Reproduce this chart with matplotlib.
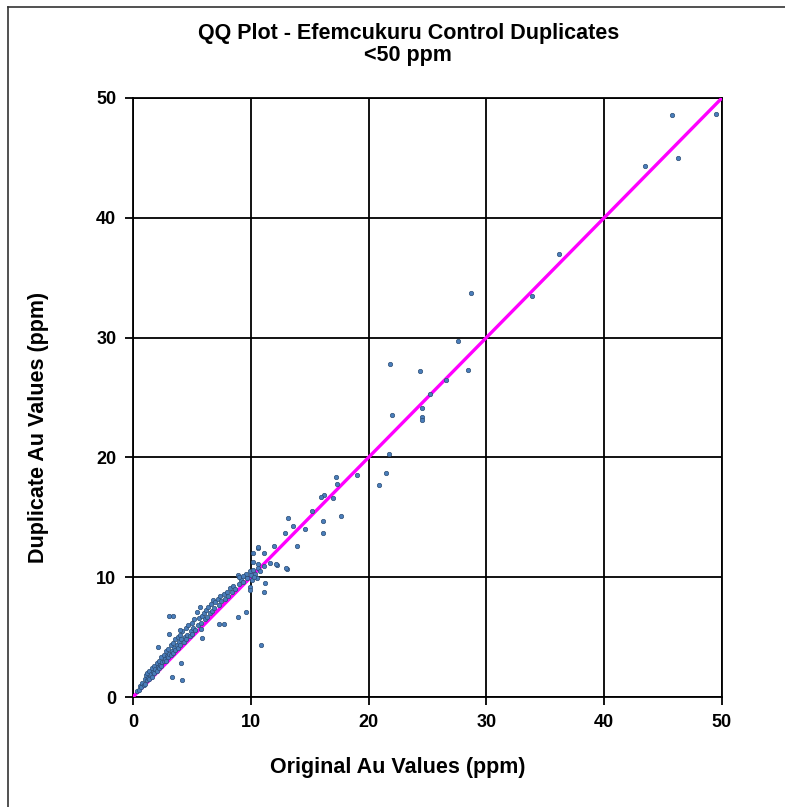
import matplotlib
matplotlib.use("Agg")
import matplotlib.pyplot as plt
from matplotlib.lines import Line2D

plt.rcParams['font.family'] = ['Liberation Sans', 'DejaVu Sans']

# original vs duplicate Au values (ppm)
orig = [0.3, 0.5, 0.6, 0.7, 0.8, 0.9, 1.0, 1.0, 1.1, 1.2, 1.2, 1.3, 1.4, 1.4, 1.5, 1.6, 1.6, 1.7,
        1.8, 1.8, 1.9, 2.0, 2.0, 2.1, 2.2, 2.2, 2.3, 2.4, 2.4, 2.5, 2.6, 2.6, 2.7, 2.8, 2.8, 2.9,
        3.0, 3.0, 3.1, 3.2, 3.2, 3.3, 3.4, 3.4, 3.5, 3.6, 3.6, 3.7, 3.8, 3.8, 3.9, 4.0, 4.0, 4.1,
        4.2, 4.3, 4.4, 4.5, 4.5, 4.6, 4.7, 4.8, 4.9, 5.0, 5.0, 5.1, 5.2, 5.3, 5.4, 5.5, 5.6, 5.7,
        5.8, 5.9, 6.0, 6.1, 6.2, 6.3, 6.4, 6.5, 6.6, 6.7, 6.8, 6.9, 7.0, 7.2, 7.3, 7.4, 7.5, 7.7,
        7.8, 8.0, 8.1, 8.2, 8.4, 8.5, 8.7, 8.9, 9.0, 9.2, 9.3, 9.5, 9.6, 9.7, 9.9, 10.0, 10.1,
        10.2, 10.4, 10.5, 10.6, 10.8, 9.0, 9.3, 10.3,
        3.1, 3.4, 4.0, 3.1, 2.1, 4.1, 3.3, 4.2, 7.3, 7.7, 5.8, 5.9, 8.9, 9.6, 10.9, 9.9, 11.2,
        11.1, 9.9, 10.6, 11.1, 10.2, 10.2, 10.6, 11.1, 11.6, 12.2, 13.1, 12.1, 13.0,
        10.6, 12.0, 13.9, 12.9, 13.2, 13.6, 14.6, 15.2, 16.1, 16.1, 17.7, 16.2, 16.0, 17.0,
        17.2, 17.3, 19.0, 20.9, 21.5, 21.7, 22.0, 24.5, 24.5, 24.5, 25.2, 26.6, 24.4, 21.8,
        28.4, 27.6, 28.7, 33.9, 36.2, 43.5, 46.3, 45.8, 49.5]
dup = [0.5, 0.6, 0.9, 0.8, 1.2, 1.0, 1.5, 1.1, 1.8, 1.4, 2.0, 1.6, 2.2, 1.5, 1.9, 2.4, 1.7, 2.1,
       2.6, 2.0, 2.3, 2.8, 2.2, 2.5, 3.0, 2.4, 2.7, 3.3, 2.6, 2.9, 3.5, 3.0, 3.2, 3.8, 3.0, 3.4,
       4.0, 3.3, 3.6, 4.3, 3.5, 3.8, 4.5, 3.7, 4.1, 4.8, 3.9, 4.3, 5.0, 4.1, 4.6, 5.2, 4.3, 4.8,
       5.5, 4.6, 5.0, 5.8, 4.8, 5.2, 6.0, 5.1, 5.5, 6.2, 5.3, 5.8, 6.5, 5.6, 7.1, 6.0, 6.6, 7.5,
       6.2, 6.8, 7.0, 6.5, 7.3, 6.7, 7.5, 7.0, 7.8, 7.2, 8.1, 7.4, 7.9, 8.2, 7.7, 8.4, 8.0, 8.6,
       8.2, 8.8, 8.4, 9.1, 8.8, 9.3, 9.0, 10.2, 9.4, 9.8, 9.6, 10.1, 10.3, 9.9, 10.5, 10.2, 9.8,
       10.6, 10.3, 9.9, 10.8, 10.5, 10.0, 10.1, 10.0,
       6.8, 6.8, 5.6, 5.3, 4.2, 2.8, 1.7, 1.4, 6.1, 6.1, 5.7, 4.9, 6.7, 7.1, 4.3, 9.2, 9.5,
       8.8, 8.9, 12.4, 12.0, 12.0, 11.3, 11.1, 10.9, 11.2, 11.0, 10.7, 11.1, 10.8,
       12.5, 12.6, 12.6, 13.7, 14.9, 14.3, 14.0, 15.5, 14.7, 13.7, 15.1, 16.9, 16.7, 16.6,
       18.4, 17.8, 18.5, 17.7, 18.7, 20.3, 23.5, 24.1, 23.4, 23.1, 25.3, 26.5, 27.2, 27.8,
       27.3, 29.7, 33.7, 33.5, 37.0, 44.3, 45.0, 48.6, 48.7]

ticks = [0, 10, 20, 30, 40, 50]

fig = plt.figure(figsize=(7.85, 8.07), dpi=100)
ax = fig.add_axes([0.1694, 0.1363, 0.7503, 0.7423])

ax.plot([0, 50], [0, 50], color='#FF00FF', lw=2.4, zorder=3)
ax.scatter(orig, dup, s=10, marker='o', facecolor='#4A7EBB', edgecolor='#2C4D75',
           linewidths=0.5, zorder=4)

ax.set_xlim(0, 50)
ax.set_ylim(0, 50)
ax.set_xticks(ticks)
ax.set_yticks(ticks)
ax.grid(True, color='black', lw=1.3)
ax.set_axisbelow(True)
for sp in ax.spines.values():
    sp.set_color('black')
    sp.set_linewidth(1.3)
ax.tick_params(direction='out', length=6, width=1.3, labelsize=13, pad=6)
for lab in ax.get_xticklabels() + ax.get_yticklabels():
    lab.set_fontweight('bold')

ax.set_xlabel('Original Au Values (ppm)', fontsize=15.5, fontweight='bold')
ax.set_ylabel('Duplicate Au Values (ppm)', fontsize=15.5, fontweight='bold')
ax.xaxis.set_label_coords(0.45, -0.1)
ax.yaxis.set_label_coords(-0.143, 0.45)
fig.text(0.52, 0.945, 'QQ Plot - Efemcukuru Control Duplicates\n<50 ppm', ha='center', va='center',
         fontsize=15.5, fontweight='bold', linespacing=1.1)

# outer frame (left and top edges only)
fig.add_artist(Line2D([0.0105, 0.0105], [0.0, 0.9915], color='#333333', lw=1.2))
fig.add_artist(Line2D([0.0105, 1.0], [0.9915, 0.9915], color='#333333', lw=1.2))

fig.savefig('out.png', dpi=100)
